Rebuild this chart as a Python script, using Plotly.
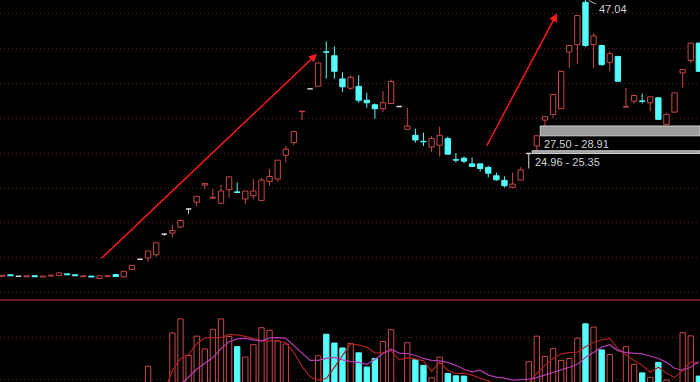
import plotly.graph_objects as go

# ---------------- data ----------------
idx = list(range(87))
opens = [7.32, 7.54, 7.33, 7.26, 7.40, 7.22, 7.36, 7.43, 7.68, 7.54,
         7.26, 7.36, 7.00, 7.29, 7.57, 7.24, 8.33, 9.76, 9.96, 10.43,
         13.39, 13.53, 14.39, 17.00, 17.96, 20.43, 18.55, 17.81, 19.76, 19.45,
         18.43, 18.90, 18.19, 20.96, 21.29, 24.71, 26.53, 30.96, 34.24, 34.61,
         39.57, 39.00, 35.67, 34.33, 34.61, 32.61, 31.96, 31.39, 32.14, 31.71,
         28.43, 27.57, 26.71, 25.90, 26.14, 27.10, 24.08, 24.29, 23.47, 23.47,
         22.96, 21.76, 21.10, 20.10, 21.14, 24.96, 26.04, 29.76, 30.57, 31.39,
         39.53, 40.57, 46.67, 40.57, 40.47, 38.04, 38.90, 31.62, 32.47, 32.51,
         32.24, 32.96, 29.14, 30.90, 36.53, 38.33, 40.81]
highs = [7.46, 7.54, 7.33, 7.40, 7.40, 7.36, 7.50, 7.85, 7.68, 7.54,
         7.40, 7.36, 7.39, 7.40, 7.71, 8.04, 8.90, 9.76, 10.96, 12.14,
         13.39, 14.71, 15.50, 17.00, 18.81, 20.67, 19.86, 20.43, 21.61, 20.81,
         19.57, 21.29, 21.43, 22.71, 24.00, 26.04, 28.10, 31.04, 34.24, 37.96,
         41.04, 40.33, 36.61, 36.19, 36.19, 33.67, 32.14, 33.90, 35.57, 31.71,
         31.53, 28.53, 27.96, 27.47, 28.81, 27.39, 25.00, 24.53, 24.39, 23.47,
         23.19, 22.24, 21.67, 22.24, 23.00, 24.96, 27.50, 30.30, 33.43, 36.80,
         40.50, 44.80, 47.04, 42.24, 40.47, 39.61, 38.90, 34.39, 33.43, 33.57,
         33.10, 32.96, 30.81, 33.67, 37.00, 40.81, 40.81]
lows = [7.32, 7.40, 7.33, 7.26, 7.26, 7.22, 7.36, 7.43, 7.54, 7.40,
        7.26, 7.22, 7.00, 7.29, 7.29, 7.20, 8.33, 9.76, 9.39, 10.14,
        13.14, 12.96, 14.30, 16.29, 17.39, 19.86, 18.55, 17.81, 18.61, 19.36,
        17.71, 18.43, 18.19, 20.33, 20.90, 23.67, 26.14, 29.76, 34.24, 34.61,
        35.71, 35.71, 33.81, 34.04, 32.24, 31.53, 29.96, 30.90, 32.14, 31.71,
        28.43, 26.53, 26.04, 25.19, 24.53, 24.86, 23.67, 23.57, 23.10, 22.39,
        21.53, 21.04, 20.10, 20.10, 21.14, 22.81, 25.35, 28.91, 30.10, 31.35,
        37.24, 37.81, 40.24, 37.24, 37.57, 36.76, 35.33, 31.62, 32.14, 32.14,
        31.04, 29.86, 29.14, 30.90, 34.39, 37.96, 36.76]
closes = [7.46, 7.40, 7.33, 7.40, 7.26, 7.36, 7.50, 7.81, 7.54, 7.40,
          7.40, 7.22, 7.39, 7.40, 7.29, 8.04, 8.90, 9.76, 10.96, 12.14,
          13.39, 13.90, 15.33, 17.00, 18.81, 20.67, 18.66, 19.57, 21.61, 19.36,
          19.57, 19.57, 21.14, 21.67, 24.00, 25.57, 28.10, 31.04, 34.24, 37.96,
          39.49, 36.76, 34.53, 35.90, 32.61, 32.24, 31.39, 32.24, 35.29, 31.71,
          28.90, 26.90, 26.63, 27.10, 27.57, 24.86, 24.00, 23.86, 23.10, 22.81,
          22.14, 21.19, 20.33, 20.57, 22.61, 24.96, 27.50, 30.24, 33.43, 36.76,
          40.47, 44.76, 40.47, 41.86, 37.71, 39.29, 35.33, 31.70, 33.29, 32.43,
          33.10, 29.86, 30.57, 33.67, 37.00, 40.81, 36.76]
volumes = [6, 5, 4, 5, 6, 7, 6, 9, 6, 5,
           7, 8, 10, 6, 8, 11, 14, 12, 34, 15,
           12, 68, 82.3, 45, 64.7, 51.7, 71.7, 82.3, 64.3, 54,
           43.3, 56, 73.3, 70.7, 60, 56.7, 16, 12, 10, 44.7,
           66.7, 57.7, 52.7, 57.3, 47.7, 33.3, 42, 59.3, 71.3, 14,
           58, 40.7, 35, 22.3, 43.3, 26.7, 24.3, 24, 15, 13,
           12, 10, 11, 14, 16, 38.7, 64.7, 44, 52, 40,
           42, 62.7, 77.3, 74, 50.7, 46, 16, 54, 36, 27.3,
           22.7, 38, 20, 15, 68.3, 65, 24]
vol_ma5 = [None] * 20 + [8, 30, 41.7, 46, 57, 63, 63.3, 63.3, 66.5, 66,
                         64.5, 62.5, 60, 60, 60, 58, 48, 34, 23.3, 20,
                         21.5, 33, 45, 56.7, 55.5, 53.5, 47.5, 48, 50, 40.5,
                         42.5, 41.5, 39.5, 29, 38, 30, 26.5, 27, 25, 22,
                         19.5, 16, 12, 10, 12, 17, 26.7, 35, 42, 46.7,
                         48, 48.3, 54, 58.3, 61, 62.5, 52, 45.5, 40, 35,
                         28, 33, 27, 22.5, 30, 38.5, 37]
vol_ma10 = [None] * 22 + [15, 23, 31, 37, 43, 52, 59, 62, 62.5, 61,
                          60, 63, 63.3, 62.5, 55, 47, 40, 40, 42, 43,
                          40.5, 39, 38, 36, 41, 47, 51.5, 47.5, 47, 45,
                          42, 40, 39.5, 38, 35, 31, 28, 30, 25, 23,
                          22, 20, 20.5, 21, 22.5, 25, 27.5, 30, 33, 36,
                          43, 48, 53.5, 56, 50, 48, 47.3, 46.7, 44.5, 42,
                          38, 32, 30, 33, 39]
# price gaps (candle index where the gap starts, low price, high price)
gaps = [(65, 24.96, 25.35), (66, 27.50, 28.91)]
peak_index = 72
peak_price = 47.04
# trend arrows: (tail index, tail price, head index, head price)
arrows = [(12.06, 9.71, 38.85, 39.29), (59.72, 25.86, 68.48, 45.07)]

# ---------------- styles ----------------
RED = "#c84848"
CYAN = "#54fcfc"
DOJI = "#dcdcdc"
GRID = "#641c1c"
BW = 0.66
XR = [-0.284, 86.14]
PR = [4.143, 47.0]
VR = [18, 100]
split = 82 / 382

up_x, up_b, up_h = [], [], []
dn_x, dn_b, dn_h = [], [], []
wick = {"up": ([], []), "dn": ([], []), "dj": ([], [])}
dj_x, dj_y = [], []
for i, o, h, l, c in zip(idx, opens, highs, lows, closes):
    if c > o:
        k = "up"; up_x.append(i); up_b.append(o); up_h.append(c - o)
    elif c < o:
        k = "dn"; dn_x.append(i); dn_b.append(c); dn_h.append(o - c)
    else:
        k = "dj"; dj_x += [i - BW / 2, i + BW / 2, None]; dj_y += [c, c, None]
    top, bot = max(o, c), min(o, c)
    wx, wy = wick[k]
    if h > top:
        wx += [i, i, None]; wy += [top, h, None]
    if l < bot:
        wx += [i, i, None]; wy += [l, bot, None]

fig = go.Figure()
wcol = {"up": RED, "dn": CYAN, "dj": DOJI}
for k, (wx, wy) in wick.items():
    fig.add_trace(go.Scatter(x=wx, y=wy, mode="lines", line=dict(color=wcol[k], width=1),
                             xaxis="x", yaxis="y", hoverinfo="skip"))
fig.add_trace(go.Bar(x=up_x, y=up_h, base=up_b, width=BW, marker=dict(color="#000000", line=dict(color=RED, width=1)),
                     xaxis="x", yaxis="y"))
fig.add_trace(go.Bar(x=dn_x, y=dn_h, base=dn_b, width=BW, marker=dict(color=CYAN, line=dict(color=CYAN, width=1)),
                     xaxis="x", yaxis="y"))
fig.add_trace(go.Scatter(x=dj_x, y=dj_y, mode="lines", line=dict(color=DOJI, width=1.5),
                         xaxis="x", yaxis="y"))

# volume
vu_x = [i for i in idx if closes[i] >= opens[i]]
vd_x = [i for i in idx if closes[i] < opens[i]]
fig.add_trace(go.Bar(x=vu_x, y=[volumes[i] for i in vu_x], width=BW,
                     marker=dict(color="#000000", line=dict(color=RED, width=1)), xaxis="x2", yaxis="y2"))
fig.add_trace(go.Bar(x=vd_x, y=[volumes[i] for i in vd_x], width=BW,
                     marker=dict(color=CYAN, line=dict(color=CYAN, width=1)), xaxis="x2", yaxis="y2"))
fig.add_trace(go.Scatter(x=idx, y=vol_ma5, mode="lines", line=dict(color="#a82222", width=1.2),
                         xaxis="x2", yaxis="y2"))
fig.add_trace(go.Scatter(x=idx, y=vol_ma10, mode="lines", line=dict(color="#b23cb2", width=1.2),
                         xaxis="x2", yaxis="y2"))

shapes = [dict(type="line", xref="paper", yref="paper", x0=0, x1=1, y0=split, y1=split,
               line=dict(color="#6a1818", width=2))]
anns = []
for gi, glo, ghi in gaps:
    shapes.append(dict(type="rect", xref="x", yref="y", x0=gi + 0.42, x1=XR[1], y0=glo, y1=ghi,
                       fillcolor="#9c9c9c", line=dict(color="#d0d0d0", width=1)))
ann_pos = {65: (65.55, 23.67), 66: (66.62, 26.29)}
for gi, glo, ghi in gaps:
    ax_, ay_ = ann_pos[gi]
    anns.append(dict(x=ax_, y=ay_, xref="x", yref="y", text=f"{glo:.2f} - {ghi:.2f}", showarrow=False,
                     xanchor="left", yanchor="middle", font=dict(family="Liberation Sans", size=11, color="#d2d2d2")))
# peak label with short leader line
shapes.append(dict(type="line", xref="x", yref="y", x0=peak_index + 0.4, y0=peak_price - 0.12,
                   x1=peak_index + 1.3, y1=peak_price - 0.62, line=dict(color="#b0b0b0", width=1)))
anns.append(dict(x=peak_index + 1.45, y=peak_price - 0.08, xref="x", yref="y", text=f"{peak_price:.2f}",
                 showarrow=False, xanchor="left", yanchor="top", yshift=-1,
                 font=dict(family="Liberation Sans", size=11, color="#d2d2d2")))
for tx, ty, hx, hy in arrows:
    anns.append(dict(x=hx, y=hy, ax=tx, ay=ty, xref="x", yref="y", axref="x", ayref="y", text="",
                     showarrow=True, arrowhead=2, arrowsize=1.1, arrowwidth=1.5, arrowcolor="#ff1a1a", standoff=0))

axis_common = dict(showticklabels=False, zeroline=False, showline=False, ticks="")
fig.update_layout(
    width=700, height=382, margin=dict(l=0, r=0, t=0, b=0),
    paper_bgcolor="#000000", plot_bgcolor="#000000",
    showlegend=False, barmode="overlay", hovermode=False,
    xaxis=dict(range=XR, showgrid=False, anchor="y", **axis_common),
    xaxis2=dict(range=XR, showgrid=False, anchor="y2", matches="x", **axis_common),
    yaxis=dict(range=PR, domain=[split + 0.004, 1], showgrid=True, gridcolor=GRID, griddash="1px,3px",
               gridwidth=1, tick0=0, dtick=5, **axis_common),
    yaxis2=dict(range=VR, domain=[0, split - 0.004], showgrid=True, gridcolor=GRID, griddash="1px,3px",
                gridwidth=1, tick0=21, dtick=42, **axis_common),
    shapes=shapes, annotations=anns,
)
fig.write_html("out.html")
